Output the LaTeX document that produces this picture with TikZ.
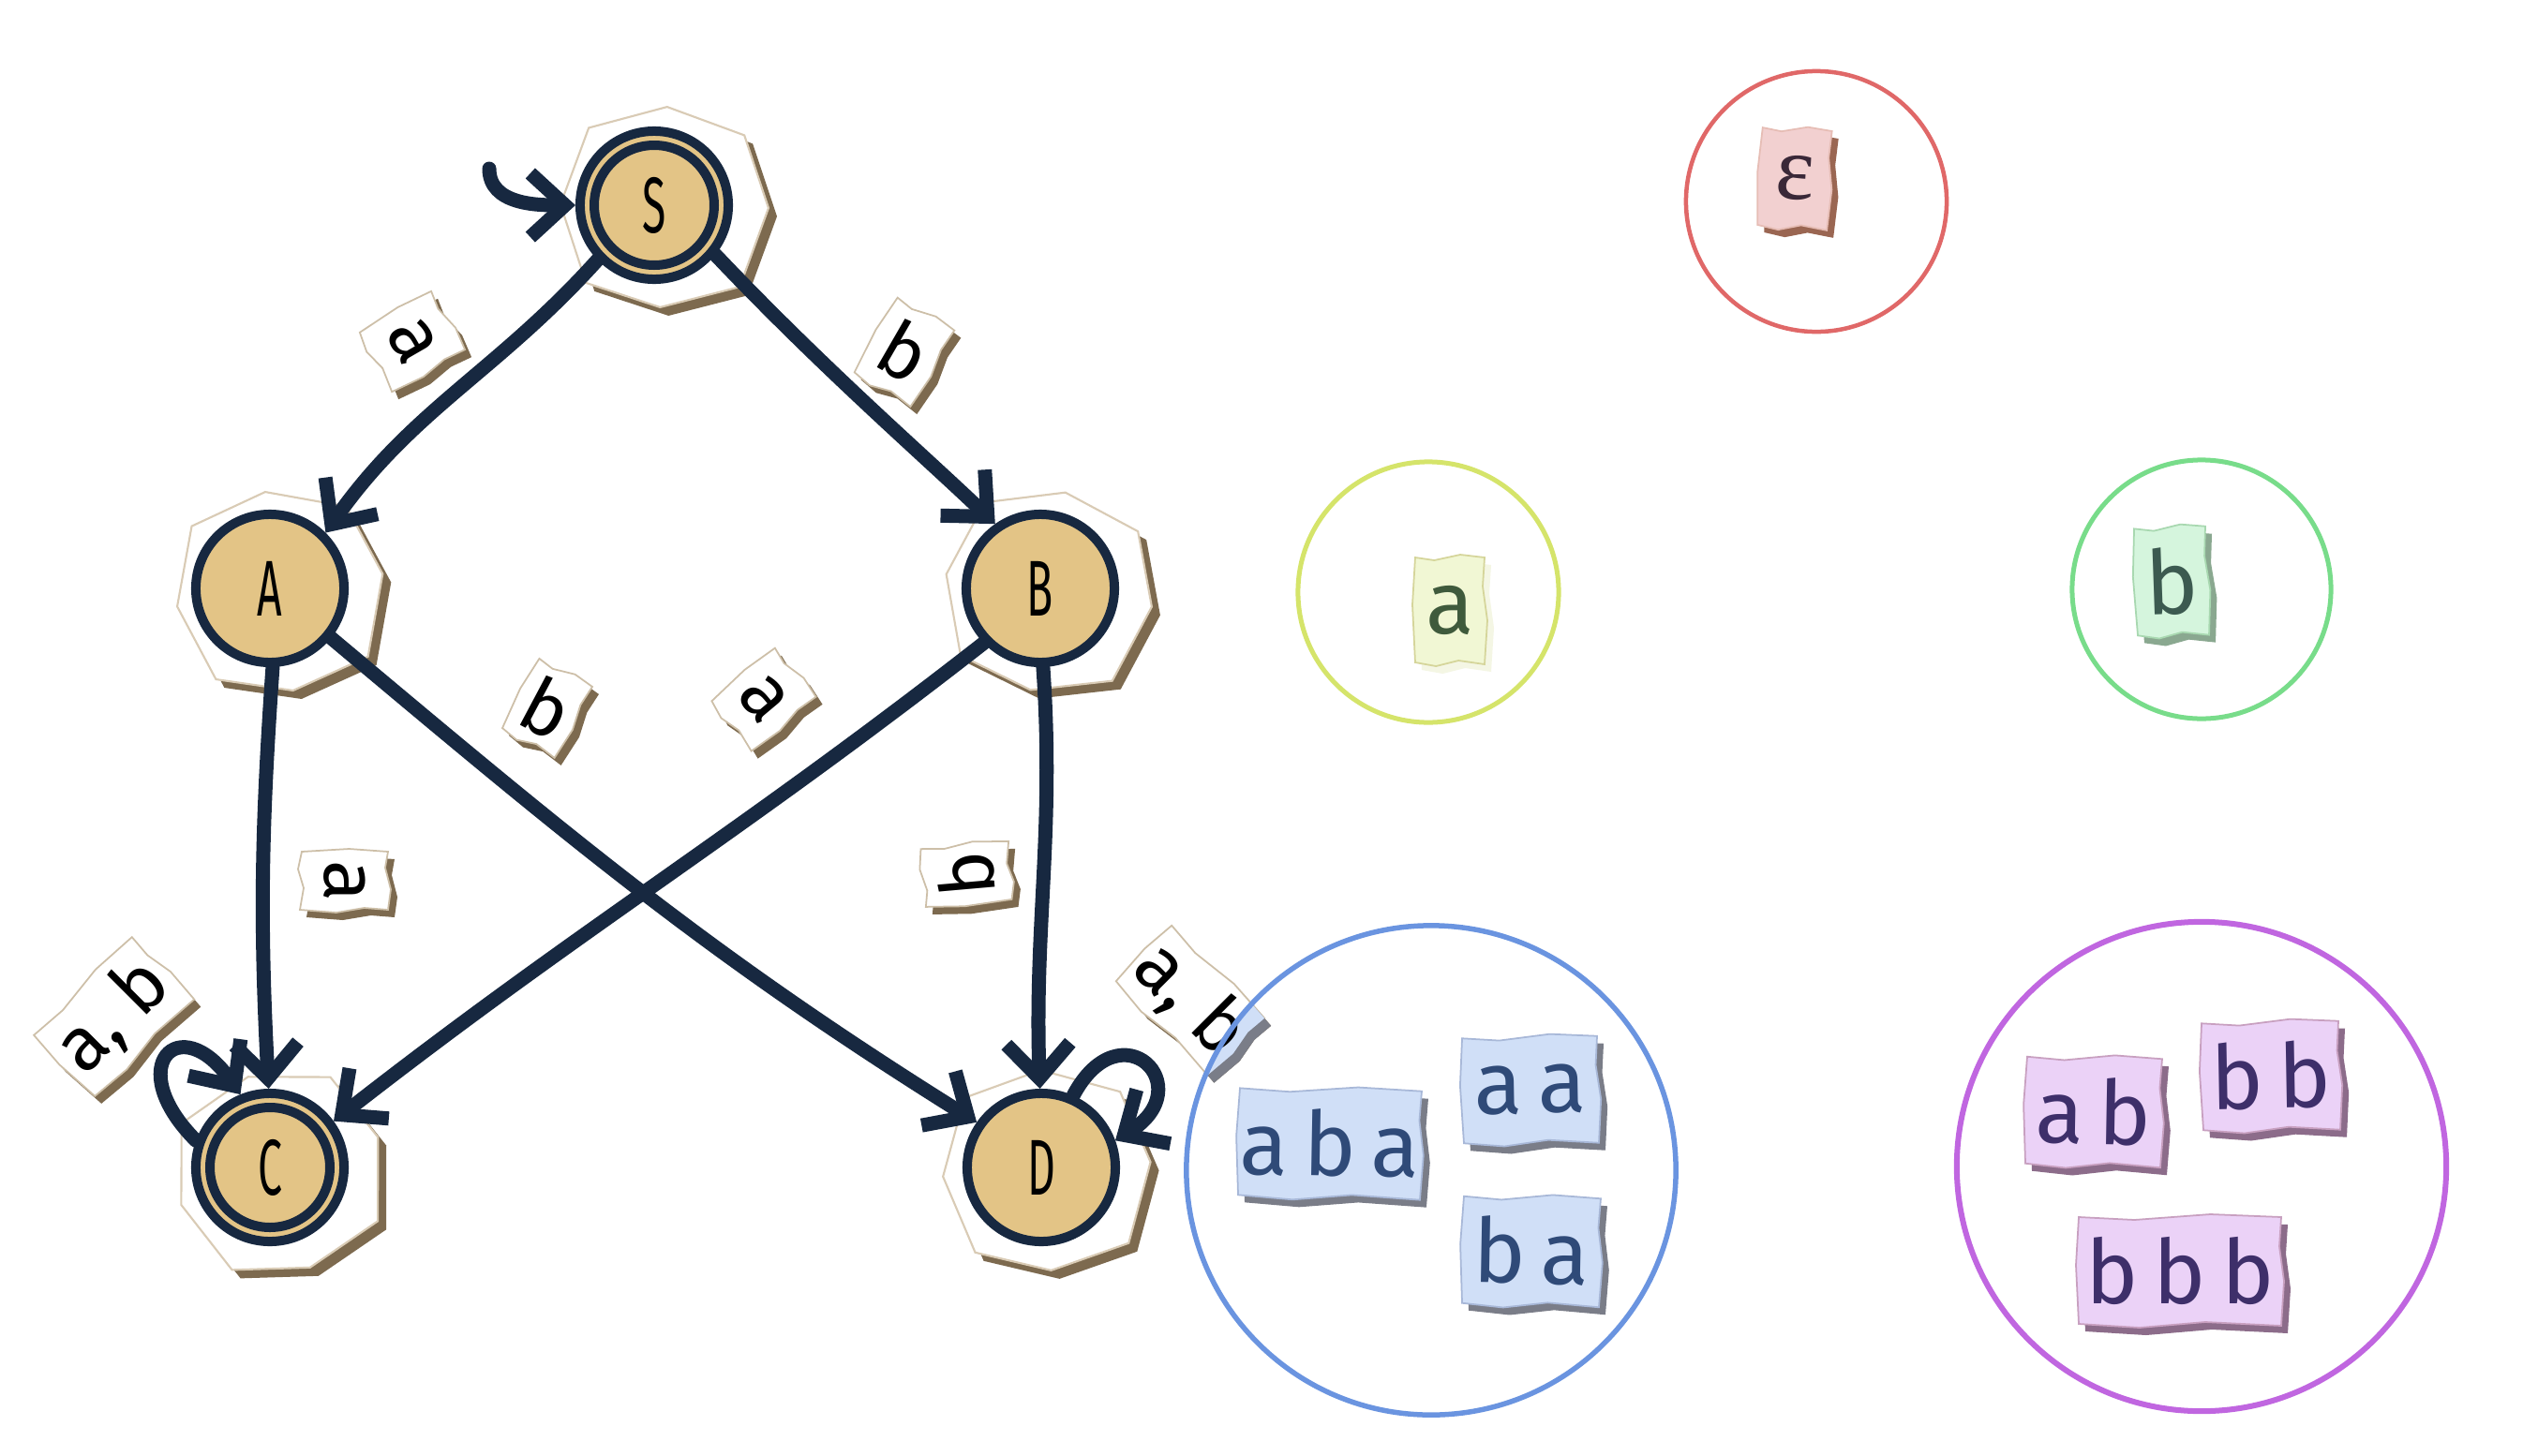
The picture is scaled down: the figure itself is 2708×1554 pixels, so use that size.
\documentclass[tikz,border=0pt]{standalone}
\usepackage{fontspec}
\usepackage{graphicx}
\setmainfont{Fira Sans}
\newfontfamily\greekserif{Liberation Serif}
\usetikzlibrary{arrows.meta}
\definecolor{navy}{HTML}{172840}
\definecolor{gold}{HTML}{E3C486}
\definecolor{bshadow}{HTML}{7D6A4F}
\definecolor{bedge}{HTML}{D9CBB5}
\definecolor{Wfill}{HTML}{FFFFFF}
\definecolor{Wshadow}{HTML}{7D6A4F}
\definecolor{Wtext}{HTML}{000000}
\definecolor{Wedge}{HTML}{CDBFA8}
\definecolor{Rfill}{HTML}{F2D0D0}
\definecolor{Rshadow}{HTML}{9A6652}
\definecolor{Rtext}{HTML}{3A2838}
\definecolor{Redge}{HTML}{E6BDB5}
\definecolor{Rline}{HTML}{E06868}
\definecolor{Yfill}{HTML}{F1F7D4}
\definecolor{Yshadow}{HTML}{F4F6E4}
\definecolor{Ytext}{HTML}{3F5A3C}
\definecolor{Yedge}{HTML}{D5D59A}
\definecolor{Yline}{HTML}{D5E46A}
\definecolor{Gfill}{HTML}{D5F5DD}
\definecolor{Gshadow}{HTML}{8AA890}
\definecolor{Gtext}{HTML}{3C5A50}
\definecolor{Gedge}{HTML}{A8D8B0}
\definecolor{Gline}{HTML}{78DC8A}
\definecolor{Bfill}{HTML}{D0DFF7}
\definecolor{Bshadow}{HTML}{7A7D88}
\definecolor{Btext}{HTML}{2F4A78}
\definecolor{Bedge}{HTML}{A8B8D8}
\definecolor{Bline}{HTML}{6A94E0}
\definecolor{Pfill}{HTML}{EBD2F7}
\definecolor{Pshadow}{HTML}{8C6C8A}
\definecolor{Ptext}{HTML}{3E2F6A}
\definecolor{Pedge}{HTML}{C8A0C0}
\definecolor{Pline}{HTML}{C066E0}
\tikzset{
  Wfont/.style={font=\fontsize{23}{23}\selectfont},
  Rfont/.style={font=\greekserif\fontsize{28}{28}\selectfont},
  Yfont/.style={font=\fontsize{27}{27}\selectfont},
  Gfont/.style={font=\fontsize{27}{27}\selectfont},
  Bfont/.style={font=\fontsize{27}{27}\selectfont},
  Pfont/.style={font=\fontsize{27}{27}\selectfont},
  state/.style={circle,draw=navy,fill=gold,line width=0.1cm,minimum size=1.58cm,inner sep=0pt,font=\fontsize{24}{24}\selectfont},
  ring/.style={draw=navy,line width=0.1cm},
  edge/.style={draw=navy,line width=0.15cm,line cap=round,-{Straight Barb[length=0.37cm,width=0.68cm]}},
  setcircle/.style={circle,inner sep=0pt,fill=none}
}
\newcommand\paperpoly[2]{({-#1},{-#2}) -- ({-0.4*#1},{-#2-4}) -- ({0.25*#1},{-#2+2}) -- ({#1},{-#2-2}) -- ({#1+3},{-0.2*#2}) -- ({#1-2},{0.45*#2}) -- ({#1},{#2}) -- ({0.3*#1},{#2+3}) -- ({-0.45*#1},{#2-3}) -- ({-#1},{#2}) -- ({-#1-3},{0.1*#2}) -- cycle}
\newcommand\paper[8]{%
  \begin{scope}[shift={({#2+7},{-#3-8})},rotate=#4]
    \fill[#7shadow] \paperpoly{#5}{#6};
  \end{scope}
  \begin{scope}[shift={(#2,{-#3})},rotate=#4]
    \filldraw[fill=#7fill,draw=#7edge,line width=0.5pt] \paperpoly{#5}{#6};
    \node[#7font,text=#7text,transform shape,inner sep=0pt] (#1) at (0,0) {#8};
  \end{scope}}
\newcommand\backpoly{(0:112) -- (42:116) -- (88:108) -- (133:117) -- (178:110) -- (224:115) -- (268:106) -- (314:117) -- cycle}
\newcommand\backing[3]{%
  \begin{scope}[shift={({#1+9},{-#2-9})},rotate=#3]
    \fill[bshadow] \backpoly;
  \end{scope}
  \begin{scope}[shift={(#1,{-#2})},rotate=#3]
    \filldraw[fill=white,draw=bedge,line width=0.6pt] \backpoly;
  \end{scope}}
\begin{document}
\begin{tikzpicture}[x=0.01cm,y=0.01cm]
\useasboundingbox (0,0) rectangle (2708,-1554);
\fill[white] (0,0) rectangle (2708,-1554);
% backing papers
\backing{708}{222}{0}
\backing{298}{632}{10}
\backing{1118}{632}{-8}
\backing{298}{1252}{20}
\backing{1116}{1250}{5}
% states
\node[state] (S) at (698,-219) {\scalebox{0.55}[1]{S}};
\draw[ring] (S.center) circle (64);
\node[state] (A) at (288,-628) {\scalebox{0.55}[1]{A}};
\node[state] (B) at (1110,-628) {\scalebox{0.55}[1]{B}};
\node[state] (C) at (288,-1246) {\scalebox{0.55}[1]{C}};
\draw[ring] (C.center) circle (64);
\node[state] (D) at (1111,-1246) {\scalebox{0.55}[1]{D}};
% edges
\coordinate (s0) at (522,-180);
\draw[edge] (s0) to[out=-90,in=180] (S.180);
\draw[edge] (S.224) to[out=228,in=55] (A.45);
\draw[edge] (S.321) .. controls (880,-395) and (990,-490) .. (B.125);
\draw[edge] (A.272) to[out=266,in=93] (C.91);
\draw[edge] (B.272) to[out=274,in=92] (D.91);
\draw[edge] (A.321) to[out=-40,in=148] (D.145);
\draw[edge] (B.224) to[out=218,in=38] (C.36);
\draw[edge] (C.160) to[out=135,in=125,looseness=4.2] (C.112);
\draw[edge] (D.66) to[out=62,in=32,looseness=4.2] (D.20);
% edge labels
\paper{lSA}{440}{364}{-60}{36}{44}{W}{a}
\paper{lSB}{965}{375}{-30}{35}{46}{W}{b}
\paper{lAD}{584}{755}{-28}{32}{42}{W}{b}
\paper{lBC}{815}{746}{-50}{34}{44}{W}{a}
\paper{lAC}{368}{940}{-90}{31}{46}{W}{a}
\paper{lBD}{1031}{933}{95}{31}{46}{W}{b}
\paper{lCL}{121}{1085}{45}{74}{46}{W}{a,\;b}
% D loop label, partly inside the blue set
\begin{scope}[shift={(1277,-1075)},rotate=-45] \fill[Wshadow] \paperpoly{70}{42}; \end{scope}
\begin{scope}[shift={(1270,-1067)},rotate=-45] \filldraw[fill=Wfill,draw=Wedge,line width=0.5pt] \paperpoly{70}{42}; \end{scope}
\begin{scope}
  \clip (1527,-1249) circle (261);
  \begin{scope}[shift={(1277,-1075)},rotate=-45] \fill[Bshadow] \paperpoly{70}{42}; \end{scope}
  \begin{scope}[shift={(1270,-1067)},rotate=-45] \fill[Bfill] \paperpoly{70}{42}; \end{scope}
\end{scope}
\node[Wfont,text=Wtext,rotate=-45,inner sep=0pt] (lDL) at (1270,-1067) {a,\;b};
% set papers
\paper{peps}{1915}{190}{-3}{37}{52}{R}{ε}
\paper{pa}{1547}{651}{0}{37}{56}{Y}{a}
\paper{pb}{2317}{620}{2}{38}{57}{G}{b}
\paper{paba}{1419}{1220}{-1}{97}{57}{B}{a\,b\,a}
\paper{paa}{1633}{1163}{1}{72}{56}{B}{a\,a}
\paper{pba}{1634}{1335}{-1}{73}{57}{B}{b\,a}
\paper{pab}{2234}{1186}{-1}{72}{57}{P}{a\,b}
\paper{pbb}{2423}{1148}{1}{73}{57}{P}{b\,b}
\paper{pbbb}{2326}{1356}{0}{108}{57}{P}{b\,b\,b}
% set circles
\node[setcircle,draw=Rline,line width=0.045cm,minimum size=2.78cm] (setE) at (1938,-215) {};
\node[setcircle,draw=Yline,line width=0.05cm,minimum size=2.78cm] (setA) at (1524,-632) {};
\node[setcircle,draw=Gline,line width=0.05cm,minimum size=2.76cm] (setB) at (2349,-629) {};
\node[setcircle,draw=Bline,line width=0.055cm,minimum size=5.22cm] (setX) at (1527,-1249) {};
\node[setcircle,draw=Pline,line width=0.06cm,minimum size=5.22cm] (setY) at (2349,-1245) {};
\end{tikzpicture}
\end{document}
